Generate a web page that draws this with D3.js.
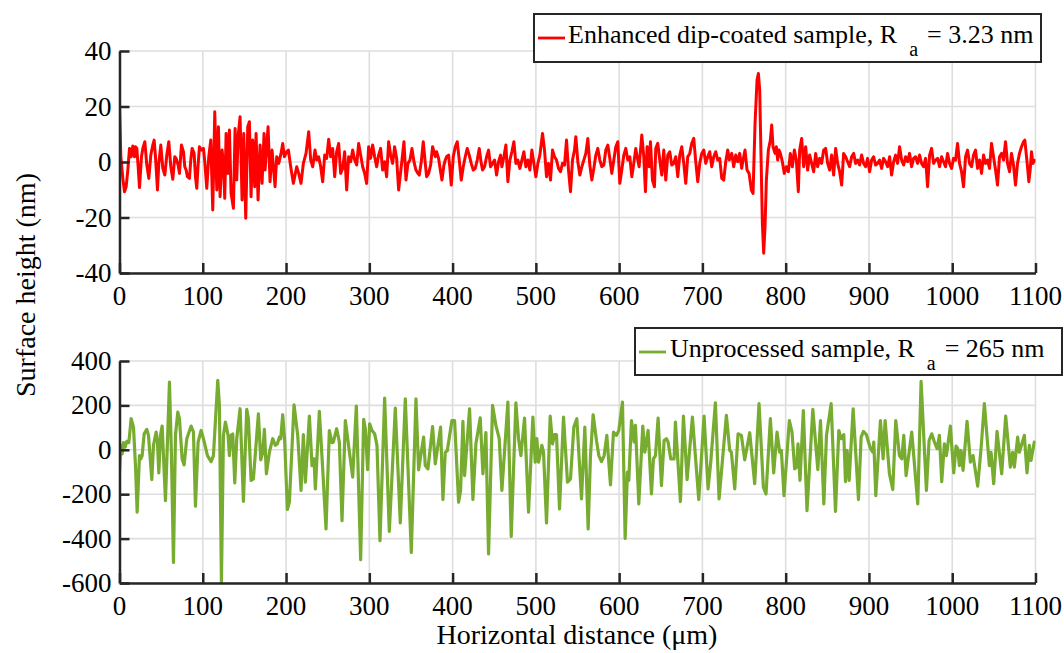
<!DOCTYPE html>
<html>
<head>
<meta charset="utf-8">
<script src="https://cdn.jsdelivr.net/npm/d3@7"></script>
</head>
<body style="margin:0">
<div id="chart"></div>
<script>
// horizontal distance ticks (um), shared by both panels
var xTicks = [0, 100, 200, 300, 400, 500, 600, 700, 800, 900, 1000, 1100];
var topTicks = [40, 20, 0, -20, -40];
var bottomTicks = [400, 200, 0, -200, -400, -600];

// enhanced dip-coated sample
var redX = [0, 1.6, 4, 6, 8, 10, 12, 14, 16, 18, 19.2, 20.8, 22.4, 24, 26.4, 28, 30.4, 32.8, 35.2, 37.6,
  40, 41.6, 43.2, 45.6, 47.2, 49.6, 52, 54.4, 56.8, 59.2, 61.6, 64, 66.4, 68, 70.4, 72, 74.4, 76.8, 78.4, 80,
  81.6, 84, 85.6, 87.2, 89.6, 91.2, 92.8, 94.4, 96, 98.4, 100.8, 102.4, 104.8, 107.2, 109.6, 112, 114.4, 116.8, 118.8, 120.8,
  123.2, 124.8, 126.4, 128, 130, 132, 134, 136.8, 138.8, 140.8, 142.4, 144.8, 147.2, 149.2, 151.6, 154, 156, 158, 160, 162.4,
  164, 166.4, 168.8, 171.2, 173.6, 174.8, 178.4, 180.8, 183.2, 184.8, 186.8, 188.8, 191.2, 194, 196, 198, 200.8, 202.8, 205.6, 208.8,
  212.8, 215.2, 218, 220.8, 224, 227.2, 229.6, 232, 234.8, 236.8, 239.2, 241.6, 244, 246.4, 248.8, 251.2, 253.6, 256, 258.4, 260.8,
  263.2, 265.6, 268, 270.4, 272.8, 275.2, 277.6, 280, 282.4, 284.8, 287.2, 289.6, 292, 294.4, 296.8, 299.2, 301.6, 304, 306.4, 308.8,
  311.2, 313.6, 316, 318.4, 320.8, 323.2, 325.6, 328, 330.4, 332.8, 335.2, 339.2, 341.6, 344, 346.4, 348.8, 351.2, 353.6, 356, 358.4,
  360, 362.4, 364.8, 367.2, 368.8, 371.2, 373.6, 376, 377.6, 379.2, 380.8, 383.2, 385.6, 387.2, 389.6, 391.2, 392.8, 395.2, 396.8, 398.4,
  400.8, 403.2, 405.6, 408, 410.4, 412.8, 415.2, 417.6, 420, 422.4, 424.8, 427.2, 429.6, 432, 434.4, 436, 438.4, 440.8, 443.2, 445.6,
  448, 450.4, 452.8, 455.2, 457.6, 459.2, 461.6, 464, 466.4, 468.8, 471.2, 473.6, 476, 478.4, 480.8, 483.2, 485.6, 488, 490.4, 492.8,
  495.2, 497.6, 500, 502.4, 504.8, 508, 510.4, 512.8, 515.2, 517.6, 520, 522.4, 524.8, 527.2, 529.6, 532, 534.4, 536.8, 539.2, 541.6,
  544, 546.4, 548, 550.4, 552.8, 555.2, 557.6, 560, 562.4, 564.8, 567.2, 569.6, 572, 574.4, 576.8, 579.2, 581.6, 584, 586.4, 588.8,
  591.2, 593.6, 596, 598.4, 600.8, 603.2, 605.6, 608, 610.4, 612.8, 615.2, 617.6, 620, 621.6, 624, 627.2, 629.6, 631.6, 633.6, 636,
  637.6, 640, 642.4, 644, 646.4, 648.8, 651.2, 653.6, 656, 658.4, 660.8, 663.2, 665.6, 668, 670.4, 672.8, 675.2, 677.6, 680, 682.4,
  684.8, 687.2, 689.6, 692, 694.4, 696.8, 699.2, 701.6, 704, 706.4, 708.8, 711.2, 713.6, 716, 718.4, 720.8, 723.2, 725.6, 728, 730.4,
  732.4, 735.2, 737.6, 740, 742.4, 744.8, 747.2, 748.8, 751.2, 753.6, 756, 758.8, 760.8, 763.2, 765.6, 767.2, 768.8, 770.4, 772, 773.6,
  775.2, 776.8, 779.2, 781.6, 783.2, 784.8, 787.2, 788.8, 790.4, 792, 793.6, 796, 798.4, 800.8, 803.2, 805.6, 808, 810.4, 812.8, 815.2,
  816.8, 819.2, 821.6, 824, 826.4, 828.8, 831.2, 833.6, 836, 838.4, 840.8, 843.2, 845.6, 848, 850.4, 852.8, 855.2, 857.6, 860, 862.4,
  864.8, 867.2, 869.6, 872, 874.4, 876.8, 879.2, 881.6, 884, 886.4, 888.8, 891.2, 893.6, 896, 898.4, 900.8, 903.2, 905.6, 908, 910.4,
  912.8, 915.2, 917.6, 920, 922.4, 924.8, 927.2, 929.6, 932, 934.4, 936.8, 939.2, 941.6, 944, 946.4, 948.8, 951.2, 953.6, 956, 958.4,
  960.8, 963.2, 965.6, 968, 970.4, 972.8, 975.2, 977.6, 980, 982.4, 984.8, 987.2, 989.6, 992, 994.4, 996.8, 999.2, 1001.6, 1004, 1006.4,
  1008.8, 1011.2, 1013.6, 1016, 1018.4, 1020.8, 1023.2, 1025.6, 1028, 1030.4, 1032.8, 1035.2, 1037.6, 1040, 1042.4, 1044.8, 1047.2, 1049.6, 1052, 1054.4,
  1056.8, 1059.2, 1061.6, 1064, 1066.4, 1068.8, 1071.2, 1073.6, 1076, 1078.4, 1080.8, 1083.2, 1085.6, 1087.2, 1088.8, 1090.4, 1092, 1093.6, 1095.2, 1096.8,
  1100];
var redY = [20.5, 1.9, -5.9, -10.7, -8.9, -2.9, 4.9, 1.9, 5.8, 1.9, 5.5, 4.9, -1.7, -9.2, 1.9, 4.9, 7.3, -1.1, -5.9, 2.5,
  6.1, 7.9, 1.9, -10.1, -0.5, 6.1, -2.3, -4.7, 2.5, 7.3, -1.7, -6.2, 1.9, 1.3, -1.1, -4.1, 6.1, 3.7, -1.7, -2.9,
  -5.3, -5.9, 0.7, 4.9, 3.1, -5.3, -9.5, -1.1, 5.5, 4.3, 4.9, 0.1, -9.5, 1.9, 7.9, -17.3, 18.1, -10.1, 12.7, -12.5,
  4.3, -0.5, -13.1, 10.3, -4.1, 11.5, -11.3, -16.7, 12.1, -6.5, 9.1, 16.3, -13.7, 10.3, -20.3, 12.7, 14.5, -12.5, 7.9, -8.9,
  10.3, -13.7, 6.1, -7.7, 10.3, -2.9, 12.7, -7.1, 4.3, -1.7, -8.9, 1.9, -0.5, 3.1, 6.7, 1.9, 3.7, 4.3, -1.7, -7.7,
  -1.7, -4.1, -7.7, -0.5, 3.1, 10.9, 0.7, -1.7, 4.3, 0.7, 1.9, -1.7, -7.1, 2.5, 1.3, 8.2, 1.9, 4.9, -5.3, 3.7,
  6.7, -4.1, -2.3, 3.7, -10.1, 1.9, 0.1, 4.3, 0.7, -1.1, 6.7, 2.5, -1.7, -4.1, -7.7, 5.5, 1.3, 6.1, 1.9, -1.7,
  2.5, 4.9, -2.9, 0.1, -5.3, 7.3, 2.5, -0.5, 5.5, 1.3, -10.1, 0.7, 7.3, -6.5, -0.5, 0.7, 4.9, 0.1, -2.9, -4.1,
  -4.7, 0.1, 7.3, -0.5, -5.3, -4.1, -1.1, 5.5, 3.7, 1.9, 3.7, 1.3, -3.5, -6.5, -1.1, 0.7, 1.9, 2.5, -2.3, -8.3,
  1.9, 5.5, 7.3, 0.7, -6.5, -1.7, 1.9, 4.9, 2.5, -0.5, -2.9, -2.3, 0.7, 4.9, -0.5, -2.9, -1.7, 1.9, 4.3, -1.7,
  -0.5, 0.7, -4.7, 0.1, 2.5, -1.7, 1.9, 6.1, -7.1, 0.7, 3.7, 7.3, -0.5, 0.7, -2.3, 0.7, 3.7, -1.7, 0.7, -2.9,
  4.3, -0.5, -5.3, -0.5, 2.5, 10.3, 4.3, -5.3, -0.5, -6.5, 4.3, 1.9, 0.7, -2.3, -3.5, -0.5, -1.1, 7.9, -2.9, -10.7,
  0.7, 4.3, 9.1, 0.1, -4.7, -1.7, 0.7, 3.1, 8.5, -1.1, -6.5, -2.3, 2.5, 4.9, 0.7, -1.7, -1.1, 4.3, 6.1, 1.3,
  -4.1, 0.7, 5.5, 7.3, -7.7, -2.9, 2.5, 4.9, 0.7, 1.9, -5.3, -0.5, 4.9, 1.9, -1.7, 9.7, 1.9, -10.7, 5.5, -1.7,
  7.3, -6.5, -8.9, 4.9, 6.7, 0.7, -4.7, 4.3, -6.5, 2.5, 3.7, -1.1, -0.5, 1.9, -5.3, 2.5, 5.5, -0.5, -7.7, 1.9,
  3.1, 6.7, 8.5, 0.1, -7.1, -0.5, 3.1, 4.3, -0.5, 1.9, 3.7, -1.7, 1.9, 3.7, 0.7, 1.3, -5.9, -6.5, 0.1, 4.3,
  0.7, 3.1, -1.7, 2.5, 0.1, 3.1, -2.3, 0.7, 4.3, -2.9, -4.1, -10.1, -11.3, 13.9, 29.5, 31.9, 25.9, 1.9, -22.1, -32.9,
  -23.3, -6.5, 4.3, 7.9, 13.3, 5.5, 3.1, 5.5, 0.7, 4.3, 3.1, 0.1, -4.1, -1.7, -3.5, 3.1, -1.7, 4.3, 0.7, -10.7,
  4.3, 8.5, -1.7, 5.5, -2.9, 2.5, -0.5, -3.5, 3.1, -1.7, 1.3, -0.5, 4.3, 4.9, -0.5, -2.9, 2.5, -4.7, 4.9, -0.5,
  -3.5, -8.3, 3.1, 1.9, 0.1, -1.7, 1.9, 3.1, -0.5, 0.7, -1.1, 2.5, -0.5, -1.7, 1.3, -3.5, 0.7, 1.9, -1.1, -0.5,
  0.7, -2.3, 1.3, 0.1, -1.7, 1.9, -4.7, 0.1, 2.5, -0.5, 5.5, 0.7, -1.1, 1.9, 0.1, 3.1, -1.7, 1.3, 1.9, -0.5,
  2.5, -0.5, -1.7, 1.3, -8.9, 2.5, 4.9, -0.5, 0.7, 1.3, -1.7, 1.9, 0.1, -1.7, 3.1, -0.5, -2.3, 1.3, 0.7, 6.7,
  -0.5, -3.5, -8.9, 1.9, 4.3, -0.5, -1.7, 2.5, 4.3, -2.3, 0.7, -4.1, 2.5, -0.5, 0.7, -2.3, 6.7, 1.9, -2.9, -8.3,
  1.9, 3.1, 0.7, 7.3, -0.5, -3.5, 3.1, -1.1, -8.3, -0.5, 3.1, 5.5, 7.3, 7.9, 3.1, -1.7, -7.1, -2.9, 3.7, -0.5,
  1];

// unprocessed sample
var greenX = [0, 1.6, 3.2, 4.8, 6.8, 8.8, 11.2, 14, 16.8, 19.2, 21.2, 24, 25.6, 27.2, 29.6, 32.8, 34.8, 38.8, 40.8, 44,
  45.6, 47.2, 49.2, 51.2, 55.2, 60, 62.4, 64.8, 67.2, 70, 72, 75.2, 77.6, 80.8, 86, 88.8, 91.2, 94.4, 98, 100.8,
  105.6, 110, 112.8, 118, 120, 122.4, 124.8, 127.2, 130.4, 132, 134, 136, 138.4, 140.8, 144.8, 148.8, 152.8, 154.8, 158, 160.8,
  166.8, 169.6, 172, 174, 176.4, 180, 184, 187.2, 189.6, 192, 193.6, 196, 198.4, 201.6, 204, 209.6, 214, 218, 220.8, 223.2,
  228, 231.2, 233.6, 235.2, 240, 244, 248, 252, 255.2, 256.8, 260.8, 264, 267.2, 271.2, 280, 284.4, 289.6, 293.2, 295.2, 298,
  300.4, 303.2, 306.4, 309.2, 312.8, 318.4, 324, 331.2, 337.2, 343.2, 350.4, 356, 359.2, 362.4, 365.2, 367.2, 370.4, 376, 379.2, 385.6,
  388.4, 391.2, 393.6, 399.2, 402.4, 407.2, 409.6, 412.4, 414.4, 420.4, 424.4, 428, 433.2, 436.4, 440, 443.2, 448, 452, 456, 459.2,
  466.4, 470.4, 476, 479.2, 482, 486.4, 491.2, 496.4, 499.2, 501.2, 503.2, 507.2, 509.2, 512.8, 517.2, 520, 522.4, 524.8, 528.4, 533.2,
  538, 541.6, 545.6, 549.2, 554.8, 558.8, 562.8, 565.6, 568.8, 572.8, 575.6, 578.8, 582, 585.2, 589.6, 593.2, 596.8, 599.6, 604, 607.2,
  610, 611.6, 614.8, 618, 619.6, 623.6, 628.4, 630.8, 634.8, 638.8, 641.2, 643.6, 646.8, 650.8, 654, 656.8, 658.8, 662, 666, 667.6,
  673.6, 677.2, 681.6, 688, 695.6, 702, 706.8, 710, 715.6, 720, 728.8, 732.8, 734.8, 738.8, 742.8, 746.8, 750.8, 756.8, 762.8, 768,
  773.2, 776.4, 781.6, 785.6, 789.6, 792.8, 794.8, 798, 804.4, 807.6, 810.8, 813.2, 814.8, 817.2, 821.2, 825.6, 832.6, 838.6, 841.8, 845.8,
  849, 854.6, 859.8, 863.8, 866.6, 869.8, 871.8, 873.8, 876.2, 881, 887.4, 890.6, 893.4, 897, 901.8, 904.6, 905.8, 908.2, 913.8, 917,
  919.4, 924.6, 928.6, 932.2, 936.6, 939.4, 941.8, 944.6, 951.4, 958.6, 962.6, 969, 972.2, 975.4, 978.6, 981.8, 984.6, 987.4, 990.6, 993,
  997.8, 1001.8, 1004.6, 1006.6, 1008.6, 1010.6, 1013, 1017.8, 1021.8, 1025, 1030.6, 1034.6, 1038.6, 1044.6, 1046.6, 1049.8, 1053.8, 1059.4, 1064.2, 1069.8,
  1072.6, 1074.6, 1078.6, 1080.6, 1086.6, 1089.8, 1092.6, 1094.6, 1098.6, 1100];
var greenY = [-101, 20, -18, 32, 12, 38, 32, 140, 102, -71, -281, -26, -41, -26, 72, 92, 65, -134, 20, 80,
  35, -104, 65, 107, -229, 305, -26, -507, 65, 170, 140, -41, -68, 50, 107, 80, -254, 35, 87, 50,
  -26, -53, -26, 313, 200, -597, 65, 125, 65, -26, 65, 71, -149, 50, 185, -232, 182, 140, -138, -131,
  162, -45, -11, 92, -108, -11, 50, 20, 27, 57, 50, 158, 35, -269, -236, 203, 65, -183, 68, -146,
  152, -71, -41, -176, 173, -86, -356, 87, 32, 35, 95, 35, -319, 132, -123, 197, -495, 137, 95, -89,
  117, 87, 72, 20, -409, 233, -368, 188, -329, 230, -462, 230, -90, -11, 57, -71, -86, 105, -63, 102,
  -224, -11, -5, 132, 132, -236, -183, 128, -116, 185, -224, 27, 144, -108, 77, -469, 200, 110, 50, -183,
  215, -390, 212, 50, -26, 143, -281, 147, -56, 50, -56, 20, -11, -329, 152, 27, 68, 68, -266, 147,
  -146, -131, 102, 140, -221, 102, -356, -26, 158, 42, -26, -53, -26, 65, -158, 80, 65, 87, 215, -399,
  -101, -138, 132, 35, 110, -244, 107, -11, 87, -199, -41, -26, 143, -161, 42, 50, 35, -41, -41, 125,
  -233, 152, -134, 147, -224, 152, -176, -56, 212, -221, 155, -3, -11, -176, 72, 65, -45, 77, -153, 208,
  -168, -199, 140, -104, 80, -11, -3, -206, 132, 80, -86, -78, 27, -138, 177, -274, 182, -89, 132, -244,
  65, 208, -278, 87, 50, 68, -143, -3, -138, 185, -224, 57, 83, 68, 5, -11, 35, -206, 132, -41,
  132, -108, -179, 132, -26, -41, 65, -116, 80, -244, 308, -183, 42, 72, 35, 5, 65, -143, 27, -26,
  107, -104, 17, 5, -71, -3, -93, 128, -56, -26, -164, 5, 208, -71, -11, -153, 83, -108, 152, -78,
  -11, -78, 57, -11, 65, -104, 20, -48, 35, 27];

var W = 1064, H = 653;
var left = 119.5, right = 1035.5;
var FONT = "'Liberation Serif'";

var svg = d3.select("#chart").append("svg")
  .attr("width", W).attr("height", H);

var x = d3.scaleLinear().domain([0, 1100]).range([left, right]);
var plain = function(d) { return String(d); };   // hyphen minus, no thousands comma

// every label goes through this, same way as a bare svg text
function label(parent, txt, size) {
  return parent.append("text").attr("font-size", size)
    .style("font-family", FONT).text(txt);
}

function drawPanel(xs, ys, domain, ticks, top, bottom, color, width, id) {
  var y = d3.scaleLinear().domain(domain).range([bottom, top]);
  var g = svg.append("g");

  // grid
  g.selectAll(".vg").data(xTicks).enter().append("line")
    .attr("x1", function(d) { return x(d); }).attr("x2", function(d) { return x(d); })
    .attr("y1", top).attr("y2", bottom)
    .attr("stroke", "#dedede").attr("stroke-width", 1.6);
  g.selectAll(".hg").data(ticks).enter().append("line")
    .attr("x1", left).attr("x2", right)
    .attr("y1", function(d) { return y(d); }).attr("y2", function(d) { return y(d); })
    .attr("stroke", "#dedede").attr("stroke-width", 1.6);

  svg.append("clipPath").attr("id", id)
    .append("rect").attr("x", left).attr("y", top - 2)
    .attr("width", right - left).attr("height", bottom - top + 4);

  var line = d3.line()
    .x(function(d, i) { return x(xs[i]); })
    .y(function(d) { return y(d); });

  g.append("path").datum(ys)
    .attr("clip-path", "url(#" + id + ")")
    .attr("fill", "none").attr("stroke", color)
    .attr("stroke-width", width).attr("stroke-linejoin", "round")
    .attr("d", line);

  // axis lines and inward ticks from the d3 axes, labels drawn as plain texts
  var ax = g.append("g").attr("transform", "translate(0," + bottom + ")")
    .call(d3.axisBottom(x).tickValues(xTicks).tickFormat("").tickSize(-10).tickSizeOuter(0));
  var ay = g.append("g").attr("transform", "translate(" + left + ",0)")
    .call(d3.axisLeft(y).tickValues(ticks).tickFormat("").tickSize(-10).tickSizeOuter(0));
  [ax, ay].forEach(function(a) {
    a.selectAll("text").remove();
    a.selectAll("path, line").attr("stroke", "#262626").attr("stroke-width", 2.5);
  });

  xTicks.forEach(function(v) {
    label(svg, plain(v), 27).attr("x", x(v)).attr("y", bottom + 32).attr("text-anchor", "middle");
  });
  ticks.forEach(function(v) {
    label(svg, plain(v), 27).attr("x", left - 8).attr("y", y(v) + 9).attr("text-anchor", "end");
  });
  return y;
}

drawPanel(redX, redY, [-40, 40], topTicks, 51, 273, "#ff0000", 3, "clipTop");
drawPanel(greenX, greenY, [-600, 400], bottomTicks, 361, 583, "#77ac30", 3.2, "clipBottom");

// legends
function legend(x0, y0, w, h, tx, color, name, value) {
  var g = svg.append("g");
  g.append("rect").attr("x", x0).attr("y", y0).attr("width", w).attr("height", h)
    .attr("fill", "#fff").attr("stroke", "#262626").attr("stroke-width", 2);
  g.append("line").attr("x1", x0 + 4).attr("x2", x0 + 31)
    .attr("y1", y0 + 24).attr("y2", y0 + 24)
    .attr("stroke", color).attr("stroke-width", 2.8);
  var t = label(svg, null, 26).attr("x", tx).attr("y", y0 + 29);
  t.append("tspan").text(name + " R");
  t.append("tspan").attr("dx", 12).attr("dy", 13).attr("font-size", 20).text("a");
  t.append("tspan").attr("dx", 9).attr("dy", -13).text("= " + value);
}
legend(534, 14, 507, 48, 568, "#ff0000", "Enhanced dip-coated sample,", "3.23 nm");
legend(635, 328, 427, 47, 670, "#77ac30", "Unprocessed sample,", "265 nm");

// axis titles
label(svg, "Horizontal distance (\u03bcm)", 28)
  .attr("x", 577).attr("y", 644).attr("text-anchor", "middle");
label(svg, "Surface height (nm)", 28)
  .attr("transform", "translate(35,285) rotate(-90)").attr("text-anchor", "middle");
</script>
</body>
</html>
